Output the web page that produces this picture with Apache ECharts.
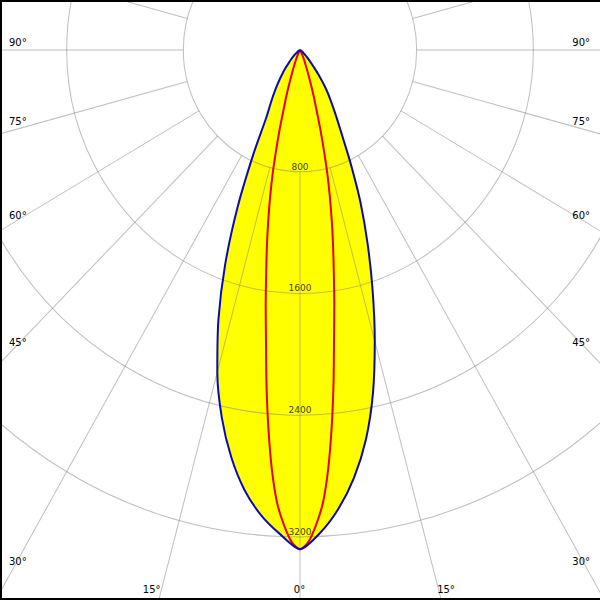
<!DOCTYPE html>
<html><head><meta charset="utf-8">
<script src="https://cdn.jsdelivr.net/npm/echarts@6/dist/echarts.min.js"></script>
<style>
html,body{margin:0;padding:0;background:#fff;overflow:hidden}
#wrap{position:absolute;left:0;top:0;width:600px;height:600px;overflow:hidden;background:#fff}
#chart{position:absolute;left:0;top:0;width:600px;height:575px;transform:scaleY(1.0434783);transform-origin:0 0}
.b{position:absolute;background:#000}
</style></head><body>
<div id="wrap"><div id="chart"></div>
<div class="b" style="left:0;top:0;width:600px;height:2px"></div>
<div class="b" style="left:0;top:0;width:2px;height:600px"></div>
<div class="b" style="left:0;top:598px;width:600px;height:2px"></div>
</div>
<script>
// ---- data (cd/klm) ----
// C0 / C180 plane (blue, filled yellow): angles in degrees from nadir
const blueAngles = [0,2.5,5,7.5,10,12.5,15,17.5,20,22.5,25,27.5,30,32.5,35,37.5,40,42.5,45,47.5,50,55,60,65,70,80,90];
const c0   = [3281,3183,3068,2916,2716,2476,2191,1861,1501,1120,760,500,400,324,257,201,155,112,83,62,46,20,8,0,0,0,0];   // left side
const c180 = [3281,3176,3026,2836,2601,2311,1981,1656,1356,1084,820,614,485,390,309,225,150,105,72,50,35,15,6,0,0,0,0]; // right side
// C90 / C270 plane (red)
const redAngles = [0,1,2,3,4,5,6,7,8,9,10,11,12,13,14,15,16,17,18,20,22.5,25,30,35,40,60,90];
const c90 = [3281,3234,3125,2984,2764,2490,2200,1915,1690,1482,1306,1140,983,832,673,536,413,330,257,150,85,45,15,5,0,0,0];
const radialTicks = [800,1600,2400,3200];
const angleTickLabels = ['90°','75°','60°','45°','30°','15°','0°','15°','30°','45°','60°','75°','90°'];

// ---- layout ----
const SY = 600/575;
const CX = 300, CY = 50/SY;
const PX_PER_800 = 116.67;
const R_DATA = 700;
const R_MAX = R_DATA / PX_PER_800 * 800;
const GRID = 'rgba(128,128,128,0.5)';
const labelLayout = [
  {x:9,y:42,a:'left'},{x:9,y:121.5,a:'left'},{x:9,y:215,a:'left'},{x:9,y:342.5,a:'left'},{x:9,y:561,a:'left'},
  {x:151.7,y:589,a:'center'},{x:299.5,y:589,a:'center'},{x:446,y:589,a:'center'},
  {x:590,y:561,a:'right'},{x:590,y:342.5,a:'right'},{x:590,y:215,a:'right'},{x:590,y:121.5,a:'right'},{x:590,y:42,a:'right'}
];

function mirror(angles, left, right) {
  const out = [];
  for (let i = angles.length - 1; i >= 0; i--) out.push([right[i], -angles[i]]);
  for (let i = 1; i < angles.length; i++) out.push([left[i], angles[i]]);
  return out;
}
const blueData = mirror(blueAngles, c0, c180);
const redData = mirror(redAngles, c90, c90);

const chart = echarts.init(document.getElementById('chart'), null, {renderer: 'svg'});
const hidden = {axisLine:{show:false}, axisTick:{show:false}, axisLabel:{show:false}, splitLine:{show:false}};
const SMOOTH = 0.25;
chart.setOption({
  animation: false,
  backgroundColor: '#fff',
  polar: [
    {center: [CX, CY], radius: [PX_PER_800, 900]},
    {center: [CX, CY], radius: [0, R_DATA]}
  ],
  angleAxis: [
    Object.assign({}, hidden, {polarIndex:0, type:'value', min:-180, max:180, interval:15, startAngle:90, clockwise:true, z:2,
      splitLine:{show:true, lineStyle:{color:GRID, width:1}}}),
    Object.assign({}, hidden, {polarIndex:1, type:'value', min:-180, max:180, interval:15, startAngle:90, clockwise:true})
  ],
  radiusAxis: [
    Object.assign({}, hidden, {polarIndex:0, type:'value', min:800, max:800*900/PX_PER_800}),
    Object.assign({}, hidden, {polarIndex:1, type:'value', min:0, max:R_MAX, interval:800, z:2,
      splitLine:{show:true, lineStyle:{width:1, color:['rgba(0,0,0,0)',GRID,GRID,GRID,GRID,'rgba(0,0,0,0)','rgba(0,0,0,0)']}}})
  ],
  series: [
    {type:'line', coordinateSystem:'polar', polarIndex:1, data:blueData, symbol:'none', smooth:SMOOTH, z:1, silent:true,
      lineStyle:{width:0, opacity:0}, areaStyle:{color:'#ffff00', opacity:1}},
    {type:'line', coordinateSystem:'polar', polarIndex:1, data:redData, symbol:'none', smooth:SMOOTH, z:3, silent:true,
      lineStyle:{color:'#e60000', width:2}},
    {type:'line', coordinateSystem:'polar', polarIndex:1, data:blueData, symbol:'none', smooth:SMOOTH, z:4, silent:true,
      lineStyle:{color:'#0a0ab4', width:2}},
    {type:'scatter', coordinateSystem:'polar', polarIndex:1, data:radialTicks.map(v => [v, 0]), symbolSize:0, z:5, silent:true,
      label:{show:true, position:'top', distance:1, formatter:p => String(p.value[0]), color:'#000', fontFamily:'DejaVu Sans', fontSize:9}}
  ],
  graphic: angleTickLabels.map((t, i) => ({
    type:'text', x: labelLayout[i].x, y: labelLayout[i].y / SY, z: 10, silent:true,
    style:{text:t, fill:'#000', font:'10px "DejaVu Sans"', textAlign:labelLayout[i].a, textVerticalAlign:'middle'}
  }))
});
</script>
</body></html>
